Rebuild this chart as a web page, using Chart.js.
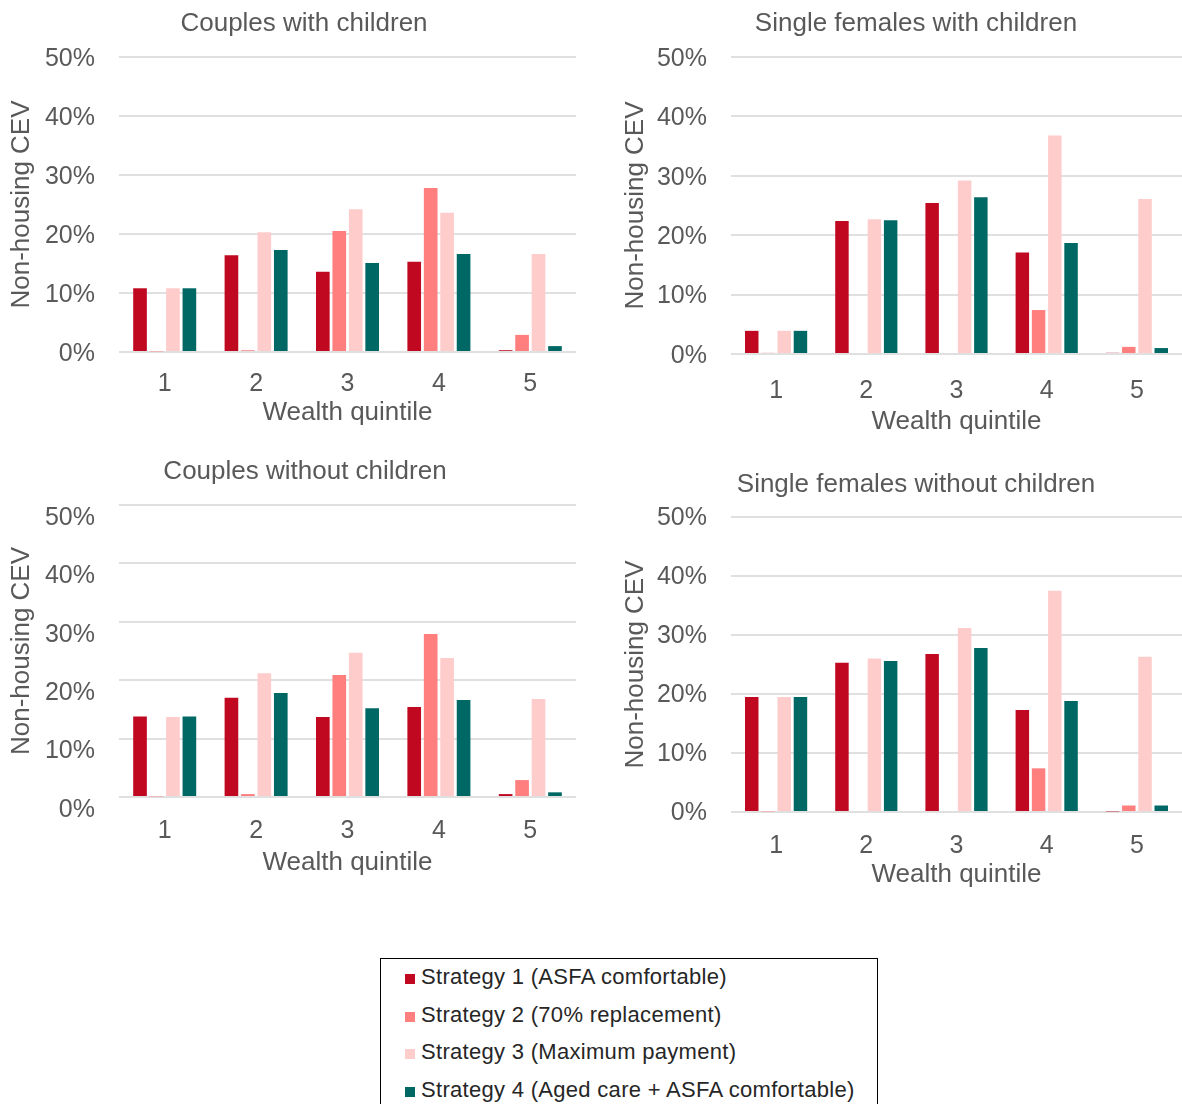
<!DOCTYPE html>
<html>
<head>
<meta charset="utf-8">
<script src="https://cdn.jsdelivr.net/npm/chart.js"></script>
<style>
  html, body { margin: 0; padding: 0; background: #fff; overflow: hidden; }
  body { width: 1182px; height: 1104px; position: relative; font-family: "Liberation Sans", Arial, sans-serif; }
  canvas { position: absolute; }
  #legend {
    position: absolute; left: 380px; top: 958px; width: 498px; height: 160px;
    border: 1.5px solid #000; box-sizing: border-box;
  }
  .item { position: absolute; left: 24px; height: 30px; line-height: 30px; font-size: 22px; color: #262626; letter-spacing: 0.3px; white-space: nowrap; }
  .item span.box { display: inline-block; width: 10px; height: 10px; margin-right: 6px; vertical-align: 0px; }
</style>
</head>
<body>
<canvas id="c1" width="576" height="440" style="left:0;top:0"></canvas>
<canvas id="c2" width="582" height="440" style="left:600px;top:0"></canvas>
<canvas id="c3" width="576" height="460" style="left:0;top:440px"></canvas>
<canvas id="c4" width="582" height="460" style="left:600px;top:440px"></canvas>
<div id="legend"></div>

<script>
  const quintiles = ["1", "2", "3", "4", "5"];
  const strategies = [
    "Strategy 1 (ASFA comfortable)",
    "Strategy 2 (70% replacement)",
    "Strategy 3 (Maximum payment)",
    "Strategy 4 (Aged care + ASFA comfortable)"
  ];
  const colors = ["#C00820", "#FF7F7F", "#FFCCCC", "#006864"];
  const yTicks = [0, 10, 20, 30, 40, 50];

  // Couples with children
  const cwcS1 = [10.8, 16.4, 13.6, 15.3, 0.3];
  const cwcS2 = [0.1, 0.3, 20.5, 27.8, 2.9];
  const cwcS3 = [10.8, 20.3, 24.2, 23.6, 16.6];
  const cwcS4 = [10.8, 17.3, 15.1, 16.6, 1.0];

  // Single females with children
  const sfcS1 = [3.9, 22.4, 25.4, 17.1, 0.2];
  const sfcS2 = [0.2, 0, 0, 7.4, 1.2];
  const sfcS3 = [3.9, 22.7, 29.2, 36.8, 26.1];
  const sfcS4 = [3.9, 22.5, 26.4, 18.7, 1.0];

  // Couples without children
  const cncS1 = [13.8, 17.0, 13.7, 15.4, 0.5];
  const cncS2 = [0.1, 0.5, 20.9, 27.9, 2.9];
  const cncS3 = [13.7, 21.2, 24.7, 23.8, 16.8];
  const cncS4 = [13.8, 17.8, 15.2, 16.6, 0.8];

  // Single females without children
  const sfnS1 = [19.5, 25.3, 26.8, 17.3, 0.1];
  const sfnS2 = [0.1, 0, 0, 7.4, 1.1];
  const sfnS3 = [19.5, 26.0, 31.2, 37.5, 26.3];
  const sfnS4 = [19.5, 25.6, 27.8, 18.8, 1.1];

  const textColor = "#595959";
  const family = "'Liberation Sans', Arial, sans-serif";

  function makeChart(id, title, series, o) {
    const canvas = document.getElementById(id);
    const h = canvas.height;
    new Chart(canvas, {
      type: "bar",
      data: {
        labels: quintiles,
        datasets: series.map((d, i) => ({
          label: strategies[i],
          data: d,
          backgroundColor: colors[i],
          categoryPercentage: 0.72,
          barPercentage: 0.83
        }))
      },
      options: {
        responsive: false,
        animation: false,
        // left padding shifts the title centre to where the reference has it
        layout: { padding: { left: o.padLeft, right: 0, top: 0, bottom: 0 } },
        plugins: {
          legend: { display: false },
          tooltip: { enabled: false },
          title: {
            display: true, text: title, color: textColor,
            font: { family, size: 26, weight: "normal" },
            padding: { top: o.titleTop, bottom: o.titleBottom }
          }
        },
        scales: {
          x: {
            grid: { display: false },
            border: { display: false },
            ticks: { color: textColor, font: { family, size: 25 }, padding: o.xPad },
            title: {
              display: true, text: "Wealth quintile", color: textColor,
              font: { family, size: 26 }, padding: { top: 0, bottom: o.xTitleBottom }
            },
            afterFit: s => { s.height = h - o.bottom; }
          },
          y: {
            min: 0, max: 50,
            afterBuildTicks: s => { s.ticks = yTicks.map(v => ({ value: v })); },
            grid: { color: "#e0e0e0", lineWidth: 2, drawTicks: false },
            border: { display: false },
            ticks: {
              color: textColor, font: { family, size: 25 }, padding: 24,
              labelOffset: o.labelOffset,
              callback: v => v + "%"
            },
            title: {
              display: true, text: "Non-housing CEV", color: textColor,
              font: { family, size: 26 }, padding: { top: o.yTitlePad, bottom: 0 }
            },
            afterFit: s => { s.width = o.yWidth; }
          }
        }
      }
    });
  }

  makeChart("c1", "Couples with children", [cwcS1, cwcS2, cwcS3, cwcS4],
    { padLeft: 32, titleTop: 8.4, titleBottom: 17.4, bottom: 352, xPad: 9, xTitleBottom: 11.4, yTitlePad: -25.6, yWidth: 87, labelOffset: 2 });
  makeChart("c2", "Single females with children", [sfcS1, sfcS2, sfcS3, sfcS4],
    { padLeft: 50, titleTop: 8.4, titleBottom: 17.4, bottom: 354, xPad: 14, xTitleBottom: 2.4, yTitlePad: -29.6, yWidth: 81, labelOffset: 2 });
  makeChart("c3", "Couples without children", [cncS1, cncS2, cncS3, cncS4],
    { padLeft: 34, titleTop: 16.4, titleBottom: 17.4, bottom: 357, xPad: 11, xTitleBottom: 21.4, yTitlePad: -27.6, yWidth: 85, labelOffset: 13 });
  makeChart("c4", "Single females without children", [sfnS1, sfnS2, sfnS3, sfnS4],
    { padLeft: 50, titleTop: 29.4, titleBottom: 16.4, bottom: 372, xPad: 11.5, xTitleBottom: 9.4, yTitlePad: -29.6, yWidth: 81, labelOffset: 1 });

  // legend box
  const legend = document.getElementById("legend");
  strategies.forEach((name, i) => {
    const div = document.createElement("div");
    div.className = "item";
    div.style.top = (3 + i * 37.7) + "px";
    div.innerHTML = '<span class="box" style="background:' + colors[i] + '"></span>' + name;
    legend.appendChild(div);
  });
</script>
</body>
</html>
